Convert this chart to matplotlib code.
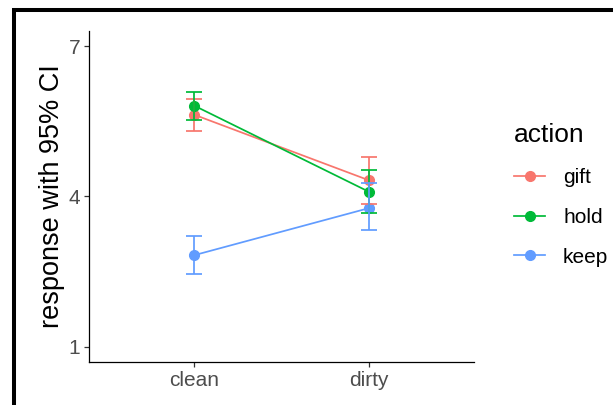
import numpy as np
import matplotlib.pyplot as plt
from matplotlib.lines import Line2D
from matplotlib.patches import Rectangle

plt.rcParams['font.family'] = ['Liberation Sans', 'DejaVu Sans']

# datos
conditions = ['clean', 'dirty']
actions = ['gift', 'hold', 'keep']
colors = ['#F8766D', '#00BA38', '#619CFF']
means = {'gift': [5.63, 4.32], 'hold': [5.81, 4.09], 'keep': [2.83, 3.77]}
lower = {'gift': [5.30, 3.85], 'hold': [5.52, 3.67], 'keep': [2.45, 3.34]}
upper = {'gift': [5.95, 4.78], 'hold': [6.09, 4.53], 'keep': [3.22, 4.26]}

fig = plt.figure(figsize=(6.13, 4.05), dpi=100)
ax = fig.add_axes([0.1457, 0.1062, 0.6281, 0.8173])

x = np.arange(1, len(conditions) + 1)

# lineas y puntos
for a, c in zip(actions, colors):
    ax.plot(x, means[a], color=c, lw=1.25, zorder=2)
for a, c in zip(actions, colors):
    ax.plot(x, means[a], 'o', color=c, ms=7, zorder=3)

# barras de error
for a, c in zip(actions, colors):
    m = np.array(means[a])
    yerr = [m - np.array(lower[a]), np.array(upper[a]) - m]
    ax.errorbar(x, m, yerr=yerr, fmt='none', ecolor=c, elinewidth=1.25,
                capsize=6, capthick=1.25, zorder=4)

ax.set_xlim(0.4, 2.6)
ax.set_ylim(0.7, 7.3)
ax.set_xticks(x)
ax.set_xticklabels(conditions)
ax.set_yticks([1, 4, 7])
ax.set_ylabel('response with 95% CI', fontsize=19.5, labelpad=2.5)

for s in ['top', 'right']:
    ax.spines[s].set_visible(False)
for s in ['left', 'bottom']:
    ax.spines[s].set_linewidth(0.9)
    ax.spines[s].set_color('black')
ax.tick_params(labelsize=15, labelcolor='#4D4D4D', color='#333333',
               length=3.5, width=0.9, pad=3)

# leyenda
handles = [Line2D([], [], color=c, lw=1.25, marker='o', ms=7) for c in colors]
leg = fig.legend(handles, actions, title='action', loc='upper left',
                 bbox_to_anchor=(0.808, 0.742), frameon=False, fontsize=15,
                 title_fontsize=19, handlelength=1.5, labelspacing=1.0,
                 handletextpad=0.85)
leg._legend_box.align = 'left'

# marco exterior
fig.add_artist(Rectangle((13.7 / 613, -0.2), 1.2, 1.2 - 10 / 405,
                         transform=fig.transFigure, fill=False,
                         edgecolor='black', lw=2.9, clip_on=False))

fig.savefig('out.png', dpi=100)
